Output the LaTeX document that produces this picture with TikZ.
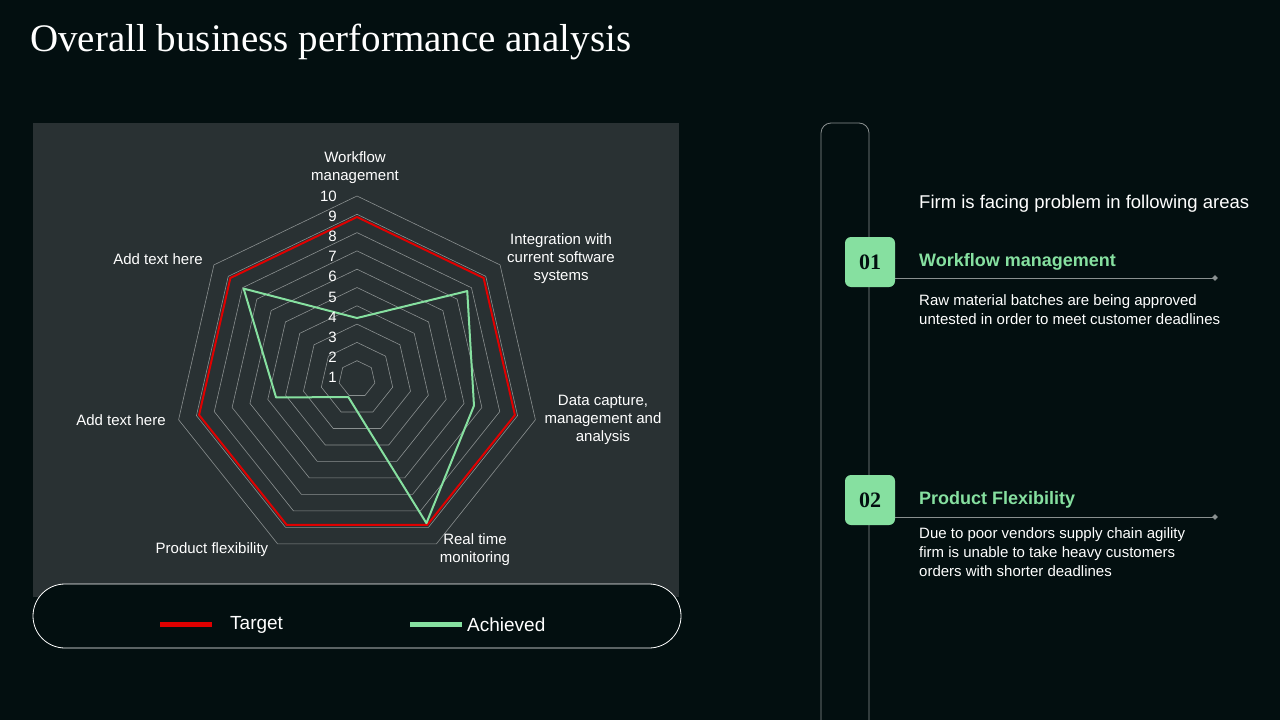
\documentclass[tikz,border=0pt]{standalone}
\usepackage{fontspec}
\setmainfont{Liberation Sans}
\newfontfamily\titlefont{Liberation Serif}
\usetikzlibrary{positioning,shapes.geometric}
\definecolor{bgdark}{HTML}{030F10}
\definecolor{chartbg}{HTML}{293133}
\definecolor{achgreen}{HTML}{86E0A0}
\definecolor{tgtred}{HTML}{E00000}
\definecolor{ringgray}{HTML}{8A9090}
\newcommand{\fs}[2]{\fontsize{#1}{#2}\selectfont}

\begin{document}
\begin{tikzpicture}[x=1pt,y=-1pt,
    axislabel/.style={text=white,font=\fs{15}{18},align=center,inner sep=0pt},
    scalelabel/.style={text=white,font=\fs{15}{18},anchor=east,inner sep=0pt},
    numbox/.style={fill=achgreen,rounded corners=6pt,minimum width=50pt,minimum height=50pt,
        font=\titlefont\bfseries\fs{22}{26},text=bgdark},
    areahead/.style={text=achgreen,font=\bfseries\fs{18}{22},anchor=west,inner sep=0pt},
    areatext/.style={text=white,font=\fs{15}{19},anchor=north west,align=left,inner sep=0pt},
    leaderline/.style={draw=ringgray,line width=0.8pt}]
    \useasboundingbox[fill=bgdark] (0,0) rectangle (1280,720);
    % title
    \node[anchor=west,text=white,font=\titlefont\fs{39}{45},inner sep=0pt] (title) at (30,42) {Overall business performance analysis};
    % chart panel
    \fill[chartbg] (33,123) rectangle (679,597);
    \begin{scope}[shift={(357,379)},x=1pt,y=1pt]
        \foreach \r in {1,...,10}
            \draw[ringgray,line width=0.6pt] plot[samples at={0,...,7}] ({90-\x*360/7}:{\r*18.3});
        % target
        \draw[tgtred,line width=2pt,line join=miter]
            plot[samples at={0,...,6}] ({90-\x*360/7}:162) -- cycle;
        % achieved
        \draw[achgreen,line width=2pt,line join=round]
            (90:61) -- ({90-360/7}:141) -- ({90-2*360/7}:120) -- ({90-3*360/7}:160)
            -- ({90-4*360/7}:20) -- ({90-5*360/7}:83) -- ({90-6*360/7}:145) -- cycle;
    \end{scope}
    \foreach \v in {1,...,10}
        \node[scalelabel] (scale\v) at (337,{398-\v*20.2}) {\v};
    \node[axislabel] (axwork) at (355,168) {Workflow\\management};
    \node[axislabel] (axinteg) at (561,259) {Integration with\\current software\\systems};
    \node[axislabel] (axdata) at (603,420) {Data capture,\\management and\\analysis};
    \node[axislabel] (axreal) at (475,550) {Real time\\monitoring};
    \node[axislabel] (axprod) at (212,550) {Product flexibility};
    \node[axislabel] (axaddb) at (121,420) {Add text here};
    \node[axislabel] (axadda) at (158,259) {Add text here};
    % legend
    \draw[white,line width=0.8pt,fill=bgdark,rounded corners=32pt] (33,584) rectangle (681,648);
    \draw[tgtred,line width=5pt] (160,624) -- (212,624);
    \node[anchor=west,text=white,font=\fs{19}{23},inner sep=0pt] (legtgt) at (230,625) {Target};
    \draw[achgreen,line width=5pt] (410,624) -- (462,624);
    \node[anchor=west,text=white,font=\fs{19}{23},inner sep=0pt] (legach) at (467,625) {Achieved};
    % right column
    \draw[ringgray,line width=0.8pt,rounded corners=10pt] (821,760) -- (821,123) -- (869,123) -- (869,760);
    \node[anchor=west,text=white,font=\fs{18.5}{22},inner sep=0pt] (intro) at (919,204) {Firm is facing problem in following areas};
    \node[numbox] (box1) at (870,262) {01};
    \node[areahead] (head1) at (919,262) {Workflow management};
    \coordinate (end1) at (1215,278);
    \draw[leaderline] (box1.east |- end1) -- (end1);
    \node[diamond,fill=ringgray,inner sep=0pt,minimum size=6pt] at (end1) {};
    \node[areatext] (text1) at (919,294) {Raw material batches are being approved\\untested  in order to meet customer deadlines};
    \node[numbox] (box2) at (870,500) {02};
    \node[areahead] (head2) at (919,500) {Product Flexibility};
    \coordinate (end2) at (1215,517);
    \draw[leaderline] (box2.east |- end2) -- (end2);
    \node[diamond,fill=ringgray,inner sep=0pt,minimum size=6pt] at (end2) {};
    \node[areatext] (text2) at (919,527) {Due to poor vendors supply chain agility\\firm is unable to take heavy  customers\\orders with shorter  deadlines};
\end{tikzpicture}
\end{document}
